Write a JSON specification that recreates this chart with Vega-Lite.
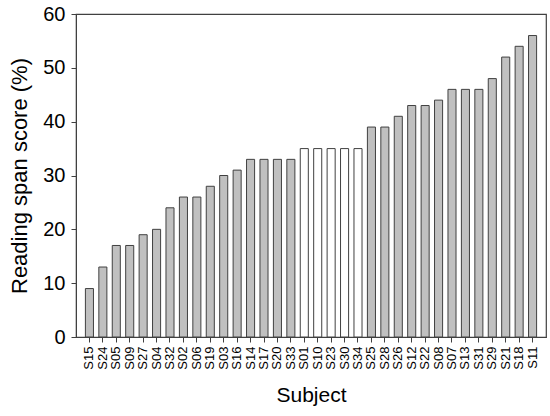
{
  "$schema": "https://vega.github.io/schema/vega-lite/v6.json",
  "autosize": {"type": "none"},
  "padding": {"left": 76, "top": 14, "right": 4, "bottom": 79},
  "width": 470,
  "height": 323,
  "background": "white",
  "config": {
    "font": "Liberation Sans",
    "view": {"stroke": "#404040", "strokeWidth": 1.2},
    "axis": {"grid": false, "domainColor": "#404040", "tickColor": "#404040", "labelColor": "#000000", "titleColor": "#000000", "titleFontWeight": "normal"}
  },
  "data": {
    "values": [
      {"subject": "S15", "score": 9, "group": "a"},
      {"subject": "S24", "score": 13, "group": "a"},
      {"subject": "S05", "score": 17, "group": "a"},
      {"subject": "S09", "score": 17, "group": "a"},
      {"subject": "S27", "score": 19, "group": "a"},
      {"subject": "S04", "score": 20, "group": "a"},
      {"subject": "S32", "score": 24, "group": "a"},
      {"subject": "S02", "score": 26, "group": "a"},
      {"subject": "S06", "score": 26, "group": "a"},
      {"subject": "S19", "score": 28, "group": "a"},
      {"subject": "S03", "score": 30, "group": "a"},
      {"subject": "S16", "score": 31, "group": "a"},
      {"subject": "S14", "score": 33, "group": "a"},
      {"subject": "S17", "score": 33, "group": "a"},
      {"subject": "S20", "score": 33, "group": "a"},
      {"subject": "S33", "score": 33, "group": "a"},
      {"subject": "S01", "score": 35, "group": "b"},
      {"subject": "S10", "score": 35, "group": "b"},
      {"subject": "S23", "score": 35, "group": "b"},
      {"subject": "S30", "score": 35, "group": "b"},
      {"subject": "S34", "score": 35, "group": "b"},
      {"subject": "S25", "score": 39, "group": "a"},
      {"subject": "S28", "score": 39, "group": "a"},
      {"subject": "S26", "score": 41, "group": "a"},
      {"subject": "S12", "score": 43, "group": "a"},
      {"subject": "S22", "score": 43, "group": "a"},
      {"subject": "S08", "score": 44, "group": "a"},
      {"subject": "S07", "score": 46, "group": "a"},
      {"subject": "S13", "score": 46, "group": "a"},
      {"subject": "S31", "score": 46, "group": "a"},
      {"subject": "S29", "score": 48, "group": "a"},
      {"subject": "S21", "score": 52, "group": "a"},
      {"subject": "S18", "score": 54, "group": "a"},
      {"subject": "S11", "score": 56, "group": "a"}
    ]
  },
  "mark": {"type": "bar", "stroke": "#404040", "strokeWidth": 1},
  "encoding": {
    "x": {
      "field": "subject",
      "type": "nominal",
      "sort": null,
      "scale": {"paddingInner": 0.4, "paddingOuter": 0.7},
      "axis": {"title": "Subject", "titleFontSize": 21, "titlePadding": 15, "labelAngle": -90, "labelFontSize": 13, "labelPadding": 4, "tickSize": 5, "domain": true}
    },
    "y": {
      "field": "score",
      "type": "quantitative",
      "scale": {"domain": [0, 60], "nice": false},
      "axis": {"title": "Reading span score (%)", "titleFontSize": 22, "titlePadding": 11, "labelFontSize": 20, "labelPadding": 6, "tickSize": 5, "values": [0, 10, 20, 30, 40, 50, 60]}
    },
    "fill": {
      "field": "group",
      "type": "nominal",
      "scale": {"domain": ["a", "b"], "range": ["#c0c0c0", "#ffffff"]},
      "legend": null
    }
  }
}
